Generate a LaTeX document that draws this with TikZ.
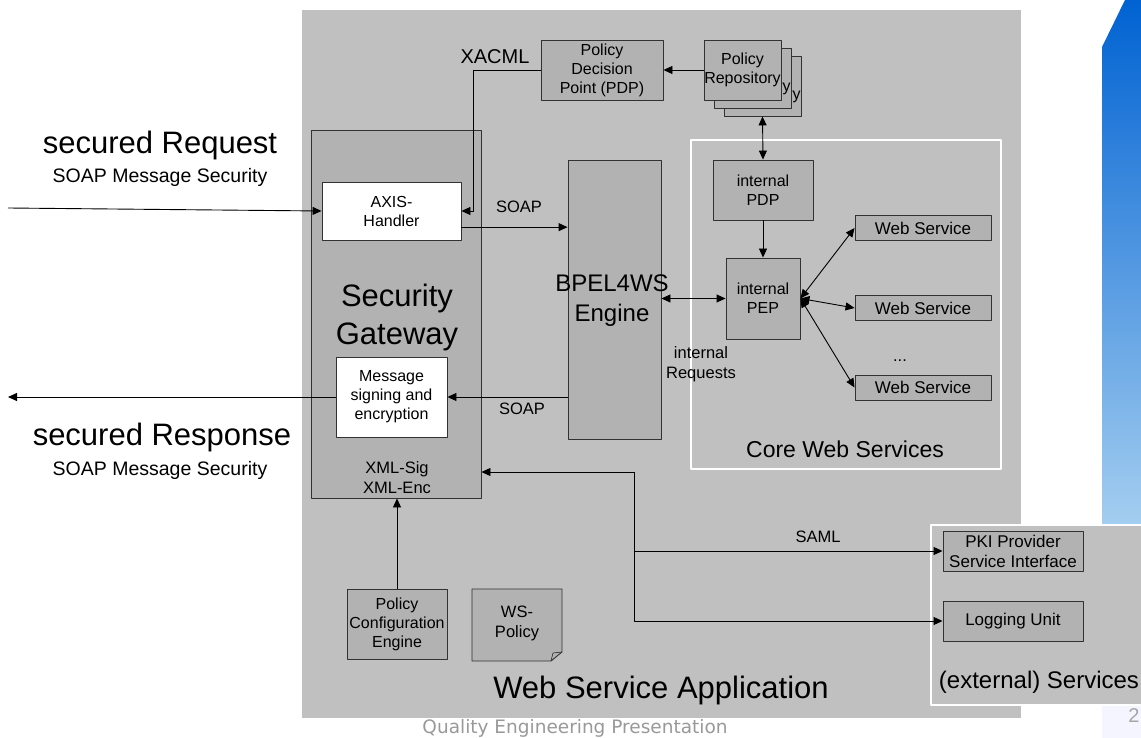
\documentclass[tikz,border=0pt]{standalone}
\usepackage{fontspec}
\setmainfont{Liberation Sans}
\newfontfamily\footfont{DejaVu Sans}
\usetikzlibrary{arrows.meta}
\definecolor{appgray}{RGB}{192,192,192}
\definecolor{boxgray}{RGB}{178,178,178}
\definecolor{edgegray}{RGB}{50,50,50}
\definecolor{bluetop}{RGB}{0,98,210}
\definecolor{bluebot}{RGB}{164,206,240}
\newcommand\setfs[2]{\fontsize{#1}{#2}\selectfont}

\begin{document}
\begin{tikzpicture}[x=1pt,y=-1pt,>={Triangle[length=9pt,width=8pt]},line join=round,
  box/.style={draw=edgegray,fill=boxgray,line width=0.9pt,align=center,inner sep=0pt,font=\setfs{16}{19}},
  whitebox/.style={box,fill=white},
  frame/.style={draw=white,line width=1.6pt,fill=appgray},
  conn/.style={line width=0.9pt},
  lbl/.style={align=center,inner sep=0pt,font=\setfs{16.5}{20}},
  big/.style={align=center,inner sep=0pt,font=\setfs{31}{38}}]

\useasboundingbox (0,0) rectangle (1141,738);
\fill[white] (0,0) rectangle (1141,738);
% blue side bar
\shade[top color=bluetop,bottom color=bluebot] (1102,47) -- (1125,0) -- (1141,0) -- (1141,525) -- (1102,525) -- cycle;
\fill[blue!4] (1102,705) rectangle (1141,738);
\node[font=\setfs{20}{24},text=gray!70,inner sep=0pt] (pageno) at (1134,716) {2};

% application area
\fill[appgray] (302,10) rectangle (1021,718);
\node[big] (applbl) at (661,690) {Web Service Application};
\node[font=\footfont\setfs{18.5}{22},text=gray!80,inner sep=0pt] (footer) at (575,728) {Quality Engineering Presentation};

% security gateway
\node[box,minimum width=170,minimum height=368] (gw) at (396,314) {};
\node[big] (gwlbl) at (397,317) {Security\\Gateway};
\node[lbl] (xmllbl) at (397,478) {XML-Sig\\XML-Enc};
\node[whitebox,minimum width=139,minimum height=58] (axis) at (391.5,211) {AXIS-\\Handler};
\node[whitebox,minimum width=111,minimum height=80] (msg) at (391.5,397) {Message\\signing and\\encryption};

\node[box,minimum width=100,minimum height=70] (pce) at (397,624) {Policy\\Configuration\\Engine};
\draw[box] (472,589) -- (562,589) -- (562,652) -- (551,661) -- (472,661) -- cycle;
\draw[draw=edgegray,line width=0.7pt] (551,661) -- (553,653) -- (562,652);
\node[lbl] (wsp) at (517,623) {WS-\\Policy};

% BPEL
\node[box,minimum width=93,minimum height=279] (bpel) at (614.5,299.5) {};
\node[align=center,inner sep=0pt,font=\setfs{24}{30}] (bpellbl) at (612,301) {BPEL4WS\\Engine};

% policy decision
\node[box,minimum width=122,minimum height=60] (pdp) at (602,70) {Policy\\Decision\\Point (PDP)};
\node[font=\setfs{20}{24},inner sep=0pt] (xacml) at (495,57) {XACML};
\foreach \i/\d in {3/20,2/10,1/0}
  \node[box,minimum width=77,minimum height=60] (repo\i) at (742.5+\d,70+0.8*\d) {Policy\\Repository};

% core web services
\draw[frame] (691,140) rectangle (1001,469);
\node[font=\setfs{23}{28},inner sep=0pt] (corelbl) at (845,449) {Core Web Services};
\node[box,minimum width=100,minimum height=60] (ipdp) at (763,190) {internal\\PDP};
\node[box,minimum width=74,minimum height=81] (ipep) at (763,298.5) {internal\\PEP};
\foreach \n/\y in {1/228,2/308,3/387.5}
  \node[box,minimum width=136,minimum height=25,font=\setfs{17}{20}] (ws\n) at (923,\y) {Web Service};
\node[lbl] (dots) at (900,361) {...};

% external services
\draw[frame] (931,525) rectangle (1146,705);
\node[box,minimum width=140,minimum height=40,font=\setfs{17}{20}] (pki) at (1013,551) {PKI Provider\\Service Interface};
\node[box,minimum width=140,minimum height=40,font=\setfs{17}{20}] (log) at (1013,621) {Logging Unit};
\node[font=\setfs{24}{28},inner sep=0pt] (extlbl) at (1039,682) {(external) Services};

% request / response
\node[big] (reqlbl) at (160,145) {secured Request};
\node[font=\setfs{19.5}{24},inner sep=0pt] (reqsub) at (160,177) {SOAP Message Security};
\node[big] (resplbl) at (162,437) {secured Response};
\node[font=\setfs{19.5}{24},inner sep=0pt] (respsub) at (160,470) {SOAP Message Security};
\coordinate (reqin) at (8,208);
\coordinate (respout) at (8,397);
\draw[conn,->] (reqin) -- (axis.west);
\draw[conn,->] (msg.west) -- (respout);

% connectors
\draw[conn,->] (pdp.west) -| ([xshift=12pt]axis.east) -- (axis.east);
\draw[conn,->] (axis.-13) -- (axis.-13 -| bpel.west);
\node[lbl] (soap1) at (519,207) {SOAP};
\draw[conn,->] (bpel.west |- msg.east) -- (msg.east);
\node[lbl] (soap2) at (522,409) {SOAP};
\draw[conn,<->] (bpel.east |- ipep.west) -- (ipep.west);
\node[lbl] (intreq) at (701,364) {internal\\Requests};
\draw[conn,->] (repo1.west) -- (pdp.east);
\draw[conn,<->] (repo3.south) -- (ipdp.north);
\draw[conn,->] (ipdp.south) -- (ipep.north);
\foreach \n in {1,2,3}
  \draw[conn,<->] (ipep.east) -- (ws\n.west);
\draw[conn,->] (pce.north) -- (pce.north |- gw.south);
\coordinate (junc) at (634,472);
\draw[conn,->] (junc) -- (junc -| gw.east);
\draw[conn,->] (junc) |- (pki.west);
\draw[conn,->] (junc) |- (log.west);
\node[lbl] (saml) at (818,537) {SAML};
\end{tikzpicture}
\end{document}
